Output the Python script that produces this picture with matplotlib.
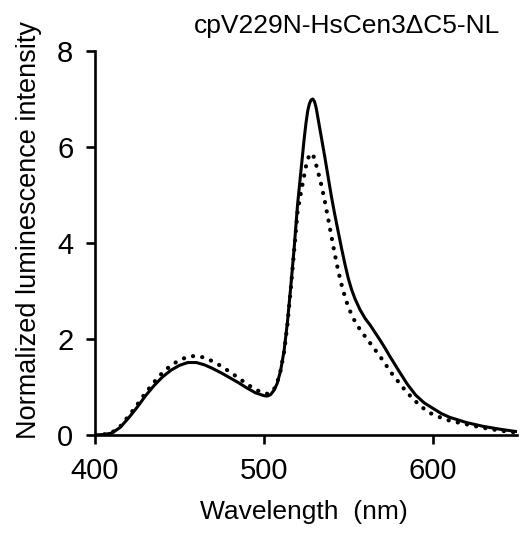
import matplotlib
matplotlib.use("Agg")
import matplotlib.pyplot as plt

plt.rcParams['font.family'] = ['Liberation Sans', 'DejaVu Sans']

# Wavelength (nm) and normalized luminescence intensity, solid trace
wl_solid = [400, 405, 410, 415, 420, 425, 430, 435, 440, 445, 450, 455, 460, 465,
            470, 475, 480, 485, 490, 495, 500, 502, 504, 506, 508, 510, 512, 514,
            516, 518, 520, 522, 524, 525, 526, 527, 528, 529, 530, 531, 532, 533,
            534, 536, 538, 540, 542, 544, 546, 548, 550, 552, 554, 557, 560, 563,
            566, 569, 572, 575, 578, 581, 585, 590, 595, 600, 605, 610, 620, 630,
            640, 650]
int_solid = [0.0, 0.01, 0.04, 0.16, 0.36, 0.58, 0.82, 1.03, 1.21, 1.35, 1.45, 1.51,
             1.51, 1.46, 1.38, 1.29, 1.19, 1.09, 0.98, 0.88, 0.82, 0.81, 0.84, 0.93,
             1.08, 1.35, 1.75, 2.35, 3.1, 3.9, 4.8, 5.5, 6.2, 6.5, 6.75, 6.9, 6.98,
             7.0, 6.95, 6.82, 6.62, 6.42, 6.22, 5.82, 5.4, 4.98, 4.6, 4.25, 3.9,
             3.57, 3.27, 3.03, 2.84, 2.61, 2.43, 2.29, 2.13, 1.97, 1.8, 1.62, 1.45,
             1.28, 1.06, 0.83, 0.67, 0.56, 0.45, 0.37, 0.26, 0.18, 0.12, 0.07]

# Dotted trace
wl_dot = [400, 405, 410, 415, 420, 425, 430, 435, 440, 445, 450, 455, 460, 465,
          470, 475, 480, 485, 490, 495, 500, 502, 504, 506, 508, 510, 512, 514,
          516, 518, 520, 522, 524, 525, 526, 527, 528, 529, 530, 532, 534, 536,
          538, 540, 542, 544, 546, 548, 550, 553, 556, 559, 562, 565, 569, 572,
          575, 579, 584, 589, 594, 599, 605, 610, 619, 630, 640, 650]
int_dot = [0.0, 0.01, 0.05, 0.18, 0.4, 0.63, 0.88, 1.1, 1.3, 1.45, 1.56, 1.63,
           1.65, 1.61, 1.53, 1.43, 1.31, 1.19, 1.06, 0.95, 0.87, 0.86, 0.88, 0.95,
           1.1, 1.35, 1.72, 2.3, 3.05, 3.85, 4.65, 5.05, 5.42, 5.6, 5.74, 5.83,
           5.87, 5.84, 5.76, 5.5, 5.22, 4.9, 4.53, 4.15, 3.78, 3.43, 3.14, 2.89,
           2.67, 2.43, 2.25, 2.1, 1.96, 1.82, 1.63, 1.48, 1.32, 1.14, 0.92, 0.73,
           0.57, 0.45, 0.36, 0.3, 0.23, 0.15, 0.09, 0.05]

x_ticks = [400, 500, 600]
y_ticks = [0, 2, 4, 6, 8]
title = "cpV229N-HsCen3\u0394C5-NL"
xlabel = "Wavelength  (nm)"
ylabel = "Normalized luminescence intensity"

fig = plt.figure(figsize=(5.2, 5.33), dpi=100)
ax = fig.add_axes([95/520, 98/533, 422/520, 384/533])

ax.plot(wl_solid, int_solid, color='black', lw=2.2, solid_joinstyle='round',
        solid_capstyle='round')
ax.plot(wl_dot, int_dot, color='black', lw=3.0, linestyle=(0, (0.05, 2.2)),
        dash_capstyle='round')

ax.set_xlim(400, 650)
ax.set_ylim(0, 8)
ax.set_xticks(x_ticks)
ax.set_yticks(y_ticks)
for s in ['top', 'right']:
    ax.spines[s].set_visible(False)
for s in ['left', 'bottom']:
    ax.spines[s].set_linewidth(1.9)
ax.tick_params(axis='both', direction='out', length=6.5, width=1.9,
               labelsize=21, pad=9)

ax.set_xlabel(xlabel, fontsize=19, va='center')
ax.xaxis.set_label_coords(0.495, -0.20)
ax.set_ylabel(ylabel, fontsize=19.5, va='center')
ax.yaxis.set_label_coords(-0.156, 0.534)

fig.text(500/520, 1 - 33/533, title, fontsize=19, ha='right', va='baseline')

fig.savefig("out.png", dpi=100)
